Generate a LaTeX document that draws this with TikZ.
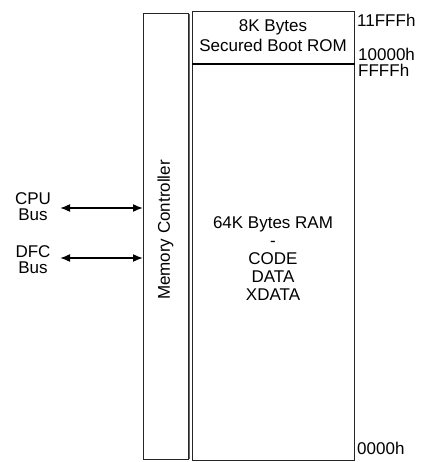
\documentclass[tikz,border=0pt]{standalone}
\usepackage{fontspec}
\setmainfont{Liberation Sans}
\usetikzlibrary{arrows.meta}
\begin{document}
\begin{tikzpicture}[x=1pt,y=-1pt,
  box/.style={draw=black!85,line width=1.3pt},
  lbl/.style={font=\fontsize{17}{17}\selectfont,inner sep=0pt,align=center},
  addr/.style={font=\fontsize{17}{13}\selectfont,inner sep=0pt,anchor=west},
  bus/.style={line width=1.6pt,{Latex[length=10pt,width=8pt]}-{Latex[length=10pt,width=8pt]}}]
\useasboundingbox (0,0) rectangle (426,462);
% memory controller
\node[box,minimum width=45pt,minimum height=446pt,anchor=north west,inner sep=0pt] (mc) at (143,13) {};
\node[lbl,rotate=90] (mct) at (165.5,230) {Memory Controller};
% memory map
\node[box,minimum width=162pt,minimum height=52pt,anchor=north west,inner sep=0pt] (rom) at (192,11) {};
\node[box,minimum width=162pt,minimum height=397pt,anchor=north west,inner sep=0pt] (ram) at (192,63) {};
\draw[line width=1.8pt] (rom.south west) -- (rom.south east);
\draw[line width=0.8pt,black!60] (189.5,14) -- (189.5,459);
\node[lbl,font=\fontsize{17}{20}\selectfont] (romt) at (273,36) {8K Bytes\\Secured Boot ROM};
\node[lbl,font=\fontsize{17}{18}\selectfont] (ramt) at (273,259) {64K Bytes RAM\\-\\CODE\\DATA\\XDATA};
% addresses
\node[addr] (a1) at (357,20) {11FFFh};
\node[addr] (a2) at (358,54) {10000h};
\node[addr] (a3) at (358,70) {FFFFh};
\node[addr] (a4) at (357,448) {0000h};
% buses
\node[lbl,font=\fontsize{17}{16}\selectfont] (cpu) at (33,207) {CPU\\Bus};
\node[lbl,font=\fontsize{17}{16}\selectfont] (dfc) at (33,260) {DFC\\Bus};
\coordinate (cpuin) at (mc.west |- 0,208);
\coordinate (dfcin) at (mc.west |- 0,258);
\draw[bus] (cpuin -| 60,0) -- (cpuin);
\draw[bus] (dfcin -| 60,0) -- (dfcin);
\end{tikzpicture}
\end{document}
